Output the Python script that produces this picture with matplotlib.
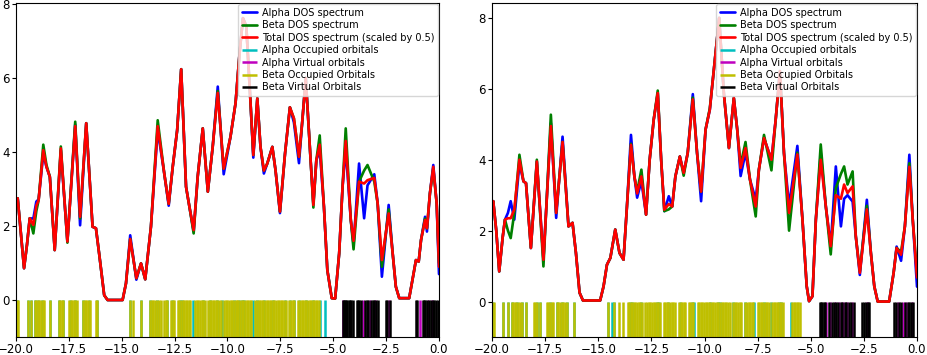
import numpy as np
import matplotlib
matplotlib.use("Agg")
import matplotlib.pyplot as plt

# ---------------------------------------------------------------------------
# Panel 1 (left) - DOS curves
# ---------------------------------------------------------------------------
l_energy = [
    -20.0, -19.92, -19.80, -19.62, -19.48, -19.35, -19.18, -19.04, -18.93, -18.71,
    -18.56, -18.40, -18.17, -17.88, -17.57, -17.20, -16.97, -16.68, -16.38, -16.22,
    -16.07, -15.83, -15.67, -14.96, -14.80, -14.60, -14.31, -14.09, -13.89, -13.62,
    -13.30, -12.99, -12.78, -12.59, -12.38, -12.19, -11.96, -11.80, -11.60, -11.41,
    -11.17, -10.93, -10.70, -10.46, -10.18, -9.86, -9.62, -9.43, -9.27, -9.11,
    -8.91, -8.78, -8.59, -8.44, -8.28, -8.12, -7.88, -7.73, -7.52, -7.28,
    -7.05, -6.86, -6.62, -6.46, -6.30, -6.07, -5.94, -5.80, -5.64, -5.44,
    -5.28, -5.07, -4.91, -4.72, -4.56, -4.41, -4.17, -4.04, -3.78, -3.54,
    -3.38, -3.06, -2.90, -2.70, -2.38, -2.19, -2.04, -1.88, -1.41, -1.20,
    -1.09, -0.96, -0.85, -0.66, -0.57, -0.43, -0.27, -0.11, 0.0,
]
l_total = [
    2.55, 2.75, 2.00, 0.86, 1.50, 2.21, 2.03, 2.55, 2.70, 4.05,
    3.60, 3.33, 1.35, 4.10, 1.58, 4.70, 2.25, 4.78, 1.98, 1.94,
    1.26, 0.13, 0.00, 0.00, 0.45, 1.65, 0.59, 0.99, 0.56, 1.98,
    4.70, 3.42, 2.60, 3.60, 4.59, 6.24, 3.06, 2.52, 1.89, 3.33,
    4.64, 2.93, 4.14, 5.60, 3.55, 4.41, 5.32, 6.67, 7.62, 7.40,
    5.32, 3.92, 5.45, 4.14, 3.50, 3.69, 4.14, 3.51, 2.39, 3.96,
    5.21, 4.91, 3.87, 4.86, 6.00, 3.78, 2.57, 3.78, 4.20, 2.52,
    0.81, 0.05, 0.04, 1.26, 3.06, 4.30, 2.16, 1.60, 3.20, 3.15,
    3.24, 3.30, 2.61, 1.08, 2.34, 1.26, 0.36, 0.05, 0.05, 0.72,
    1.08, 1.04, 1.62, 2.16, 1.94, 2.88, 3.60, 2.61, 0.90,
]
l_alpha = [
    2.55, 2.75, 2.00, 0.86, 1.50, 2.21, 2.20, 2.66, 2.72, 3.95,
    3.60, 3.33, 1.35, 4.05, 1.58, 4.75, 2.02, 4.78, 1.98, 1.94,
    1.26, 0.13, 0.00, 0.00, 0.45, 1.75, 0.55, 0.99, 0.56, 1.98,
    4.60, 3.42, 2.55, 3.60, 4.59, 6.24, 3.06, 2.52, 1.85, 3.33,
    4.64, 2.93, 4.14, 5.77, 3.40, 4.41, 5.32, 6.67, 7.62, 7.40,
    5.32, 3.85, 5.45, 4.14, 3.42, 3.69, 4.14, 3.51, 2.35, 3.96,
    5.21, 4.80, 3.70, 4.86, 6.00, 3.78, 2.60, 3.78, 4.05, 2.52,
    0.81, 0.05, 0.04, 1.26, 3.06, 4.10, 2.16, 1.50, 3.69, 2.21,
    3.10, 3.40, 2.61, 0.63, 2.57, 1.26, 0.36, 0.05, 0.05, 0.72,
    1.08, 1.04, 1.62, 2.25, 1.85, 2.88, 3.65, 2.61, 0.70,
]
l_beta = [
    2.55, 2.75, 2.00, 0.86, 1.50, 2.21, 1.80, 2.40, 2.70, 4.20,
    3.65, 3.33, 1.35, 4.15, 1.55, 4.82, 2.20, 4.78, 1.98, 1.94,
    1.26, 0.13, 0.00, 0.00, 0.45, 1.65, 0.59, 0.99, 0.56, 1.98,
    4.86, 3.42, 2.60, 3.60, 4.59, 6.24, 3.06, 2.52, 1.80, 3.33,
    4.64, 2.93, 4.14, 5.65, 3.55, 4.41, 5.32, 6.67, 7.62, 7.40,
    5.32, 3.92, 5.45, 4.14, 3.50, 3.69, 4.14, 3.51, 2.39, 3.96,
    5.21, 4.91, 3.87, 4.86, 6.00, 3.78, 2.50, 3.78, 4.45, 2.52,
    0.81, 0.05, 0.04, 1.26, 3.06, 4.64, 2.16, 1.37, 3.20, 3.50,
    3.65, 3.20, 2.61, 0.90, 2.45, 1.26, 0.36, 0.05, 0.05, 0.72,
    1.08, 1.04, 1.62, 2.20, 1.94, 2.88, 3.55, 2.61, 1.00,
]

# orbital energies (left)
l_alpha_occ = [
    -19.94, -19.43, -19.27, -19.11, -18.94, -18.78, -18.39, -17.95, -17.76, -17.47,
    -17.20, -16.81, -16.57, -16.18, -14.63, -14.08, -13.65, -13.33, -12.85, -12.62,
    -12.25, -12.15, -11.65, -11.15, -10.85, -10.50, -10.25, -9.70, -9.45, -9.30,
    -9.20, -8.80, -8.60, -8.28, -7.85, -7.30, -7.05, -6.85, -6.60, -6.30, -5.95,
    -5.65, -5.39,
]
l_alpha_virt = [
    -4.52, -3.60, -3.28, -3.02, -2.37, -0.92, -0.50, -0.33,
]
l_beta_occ = [
    -19.97, -19.90, -19.43, -19.27, -19.11, -19.04, -18.97, -18.89, -18.80, -18.72,
    -18.66, -18.39, -17.97, -17.90, -17.83, -17.76, -17.50, -17.42, -17.35, -17.28,
    -17.20, -17.13, -16.82, -16.75, -16.68, -16.60, -16.52, -16.21, -16.16,
    -14.63, -14.49, -14.08, -13.66, -13.58, -13.50, -13.42,
    -13.33, -13.25, -13.15, -13.00, -12.92, -12.85, -12.68, -12.60, -12.52,
    -12.35, -12.27, -12.20, -12.12, -12.05, -11.97, -11.90, -11.82, -11.75,
    -11.52, -11.45, -11.38, -11.30, -11.22, -11.15, -11.08, -10.92, -10.85,
    -10.78, -10.70, -10.62, -10.55, -10.48, -10.40, -10.32, -10.15, -10.08,
    -10.00, -9.92, -9.85, -9.78, -9.70, -9.62, -9.55, -9.48, -9.40, -9.33,
    -9.25, -9.18, -9.10, -9.02, -8.95, -8.88, -8.68, -8.60, -8.52, -8.45,
    -8.38, -8.30, -8.22, -8.15, -8.08, -8.00, -7.92, -7.85, -7.78, -7.70,
    -7.62, -7.55, -7.48, -7.40, -7.32, -7.25, -7.08, -7.00, -6.92, -6.85,
    -6.65, -6.58, -6.50, -6.42, -6.35, -6.28, -6.20, -6.12, -6.05, -5.98,
    -5.90, -5.82, -5.75, -5.68,
]
l_beta_virt = [
    -4.56, -4.50, -4.44, -4.38, -4.33, -4.26, -4.20, -4.14, -4.08, -3.90,
    -3.84, -3.78, -3.70, -3.50, -3.42, -3.36, -3.22, -3.14, -3.08, -2.98,
    -2.90, -2.50, -2.44, -2.30, -1.10, -1.05, -0.78, -0.70, -0.64, -0.55,
    -0.45, -0.38, -0.28, -0.22, -0.14, -0.06,
]

# ---------------------------------------------------------------------------
# Panel 2 (right)
# ---------------------------------------------------------------------------
r_energy = [
    -20.0, -19.94, -19.80, -19.66, -19.50, -19.39, -19.25, -19.12, -18.95, -18.71,
    -18.52, -18.40, -18.17, -17.89, -17.58, -17.23, -16.98, -16.68, -16.40, -16.21,
    -16.05, -15.88, -15.72, -14.91, -14.75, -14.59, -14.43, -14.20, -14.00, -13.81,
    -13.65, -13.46, -13.30, -13.17, -12.97, -12.75, -12.58, -12.39, -12.20, -12.04,
    -11.89, -11.68, -11.52, -11.37, -11.16, -10.98, -10.79, -10.55, -10.35, -10.16,
    -9.95, -9.75, -9.64, -9.31, -9.09, -8.85, -8.62, -8.46, -8.30, -8.07,
    -7.86, -7.59, -7.44, -7.20, -6.85, -6.65, -6.45, -6.26, -6.02, -5.63,
    -5.39, -5.19, -5.08, -4.92, -4.76, -4.53, -4.29, -4.06, -3.82, -3.58,
    -3.43, -3.27, -3.03, -2.88, -2.69, -2.36, -2.17, -2.01, -1.85, -1.31,
    -1.10, -0.96, -0.75, -0.57, -0.36, -0.20, 0.0,
]
r_total = [
    2.75, 2.83, 2.00, 0.85, 1.80, 2.31, 2.35, 2.35, 2.60, 4.00,
    3.39, 3.34, 1.51, 3.95, 1.18, 4.95, 2.50, 4.50, 2.12, 2.22,
    1.37, 0.25, 0.03, 0.03, 0.43, 1.04, 1.23, 2.03, 1.37, 1.18,
    2.68, 4.42, 3.53, 3.05, 3.53, 2.45, 4.00, 5.13, 5.88, 4.00,
    2.59, 2.75, 2.68, 3.53, 4.09, 3.63, 4.19, 5.70, 4.19, 3.10,
    4.85, 5.41, 6.07, 8.00, 5.88, 4.33, 5.74, 4.85, 3.77, 4.33,
    3.44, 2.68, 3.72, 4.61, 4.00, 5.13, 6.50, 4.19, 2.50, 4.15,
    2.31, 0.43, 0.01, 0.15, 2.31, 4.00, 2.68, 1.56, 3.00, 2.90,
    3.30, 3.06, 3.25, 1.84, 0.81, 2.60, 1.37, 0.43, 0.00, 0.00,
    0.81, 1.51, 1.32, 2.12, 3.80, 2.31, 0.68,
]
r_alpha = [
    2.75, 2.83, 2.00, 0.85, 1.80, 2.31, 2.50, 2.83, 2.31, 3.90,
    3.39, 3.34, 1.51, 3.95, 1.18, 5.03, 2.36, 4.65, 2.12, 2.22,
    1.37, 0.25, 0.03, 0.03, 0.43, 1.04, 1.23, 2.03, 1.37, 1.18,
    2.68, 4.70, 3.53, 2.93, 3.40, 2.45, 4.00, 5.13, 5.88, 4.00,
    2.55, 2.97, 2.68, 3.53, 4.09, 3.63, 4.19, 5.85, 4.19, 2.83,
    4.85, 5.41, 6.07, 8.00, 5.88, 4.33, 5.74, 4.85, 3.54, 4.20,
    3.44, 2.87, 3.72, 4.61, 4.00, 5.13, 6.50, 4.19, 2.70, 4.39,
    2.31, 0.43, 0.01, 0.15, 2.31, 4.19, 2.68, 1.56, 3.81, 2.12,
    2.90, 3.00, 2.82, 1.84, 0.75, 2.87, 1.37, 0.43, 0.00, 0.00,
    0.81, 1.55, 1.15, 2.12, 4.14, 2.31, 0.42,
]
r_beta = [
    2.75, 2.83, 2.00, 0.85, 1.80, 2.31, 2.00, 1.79, 2.50, 4.14,
    3.39, 3.34, 1.51, 4.00, 0.99, 5.27, 2.50, 4.50, 2.12, 2.22,
    1.37, 0.25, 0.03, 0.03, 0.43, 1.04, 1.23, 2.03, 1.37, 1.18,
    2.68, 4.45, 3.53, 3.10, 3.72, 2.45, 4.00, 5.13, 5.95, 4.00,
    2.55, 2.60, 2.68, 3.53, 4.09, 3.55, 4.19, 5.75, 4.19, 3.10,
    4.85, 5.45, 6.07, 8.00, 5.88, 4.33, 5.74, 4.85, 3.85, 4.50,
    3.44, 2.40, 3.72, 4.70, 3.70, 5.13, 6.50, 4.19, 2.00, 4.20,
    2.31, 0.43, 0.01, 0.15, 2.31, 4.43, 2.68, 1.33, 3.20, 3.60,
    3.81, 3.30, 3.67, 1.84, 0.85, 2.70, 1.37, 0.43, 0.00, 0.00,
    0.81, 1.51, 1.40, 2.12, 3.90, 2.31, 0.80,
]

r_alpha_occ = [
    -19.94, -19.47, -19.23, -19.07, -18.81, -18.60, -18.40, -17.89, -17.74, -17.26,
    -16.95, -16.71, -16.48, -16.13, -14.54, -14.35, -14.25, -13.50, -13.40, -13.00,
    -12.25, -12.15, -11.70, -11.15, -10.60, -10.50, -9.75, -9.35, -9.25, -8.65,
    -8.10, -7.65, -7.20, -6.89, -6.50, -6.40, -5.94,
]
r_alpha_virt = [
    -4.28, -4.08, -3.86, -3.66, -3.47, -3.28, -3.05, -2.36, -0.91, -0.66,
    -0.50, -0.25,
]
r_beta_occ = [
    -19.98, -19.92, -19.47, -19.23, -19.07, -19.00, -18.92, -18.85, -18.77, -18.68,
    -18.60, -18.40, -18.04, -17.96, -17.88, -17.76, -17.42, -17.35, -17.27, -17.19,
    -17.12, -16.96, -16.88, -16.80, -16.72, -16.64, -16.56, -16.48, -16.13,
    -14.54, -14.25, -14.04, -13.83,
    -13.62, -13.55, -13.48, -13.40, -13.32, -13.25, -13.18, -13.10, -13.02,
    -12.95, -12.78, -12.70, -12.62, -12.55, -12.48, -12.40, -12.32, -12.25,
    -12.18, -12.10, -11.92, -11.85, -11.78, -11.70, -11.62, -11.55, -11.48,
    -11.40, -11.20, -11.12, -11.05, -10.98, -10.90, -10.75, -10.68, -10.60,
    -10.52, -10.32, -10.25, -10.18, -10.10, -10.02, -9.95, -9.88, -9.80,
    -9.72, -9.65, -9.58, -9.50, -9.42, -9.35, -9.28, -9.20, -9.12, -9.05,
    -8.98, -8.90, -8.82, -8.65, -8.58, -8.50, -8.42, -8.35, -8.28, -8.08,
    -8.00, -7.92, -7.85, -7.78, -7.70, -7.50, -7.42, -7.35, -7.28, -7.20,
    -7.12, -7.05, -6.98, -6.82, -6.75, -6.68, -6.60, -6.52, -6.45, -6.38,
    -6.30, -5.88, -5.80, -5.72, -5.65, -5.58, -5.52,
]
r_beta_virt = [
    -4.58, -4.52, -4.46, -4.40, -4.34, -4.14, -4.02, -3.92, -3.80, -3.74,
    -3.60, -3.54, -3.40, -3.34, -3.22, -3.12, -2.98, -2.58, -2.50, -2.42,
    -2.30, -2.24, -1.08, -0.98, -0.84, -0.75, -0.58, -0.44, -0.36, -0.30,
    -0.20,
]

panels = [
    (l_energy, l_alpha, l_beta, l_total,
     l_alpha_occ, l_alpha_virt, l_beta_occ, l_beta_virt, 8.03),
    (r_energy, r_alpha, r_beta, r_total,
     r_alpha_occ, r_alpha_virt, r_beta_occ, r_beta_virt, 8.42),
]

W, H = 927, 355
fig = plt.figure(figsize=(W / 100, H / 100), dpi=100)
boxes = [
    [16 / W, 1 - 337 / H, (439 - 16) / W, 334 / H],
    [492 / W, 1 - 337 / H, (917 - 492) / W, 334 / H],
]

curve_kw = dict(lw=1.9, solid_joinstyle="round", solid_capstyle="round")

for box, (e, a, b, t, aocc, avirt, bocc, bvirt, ytop) in zip(boxes, panels):
    ax = fig.add_axes(box)
    ax.plot(e, a, color="b", label="Alpha DOS spectrum", **curve_kw)
    ax.plot(e, b, color="g", label="Beta DOS spectrum", **curve_kw)
    ax.plot(e, t, color="r", label="Total DOS spectrum (scaled by 0.5)", **curve_kw)
    ax.vlines(aocc, -1, 0, colors="c", lw=1.8, label="Alpha Occupied orbitals")
    ax.vlines(avirt, -1, 0, colors="m", lw=1.8, label="Alpha Virtual orbitals")
    ax.vlines(bocc, -1, 0, colors="y", lw=1.8, label="Beta Occupied Orbitals")
    ax.vlines(bvirt, -1, 0, colors="k", lw=1.8, label="Beta Virtual Orbitals")
    ax.set_xlim(-20, 0)
    ax.set_ylim(-1, ytop)
    ax.set_xticks([-20, -17.5, -15, -12.5, -10, -7.5, -5, -2.5, 0])
    ax.set_yticks([0, 2, 4, 6, 8])
    ax.tick_params(labelsize=8.5, length=3, pad=1.5)
    ax.legend(loc="upper right", fontsize=7, handlelength=1.5,
              handletextpad=0.5, borderaxespad=0.1, labelspacing=0.25)

fig.savefig("out.png", dpi=100)
